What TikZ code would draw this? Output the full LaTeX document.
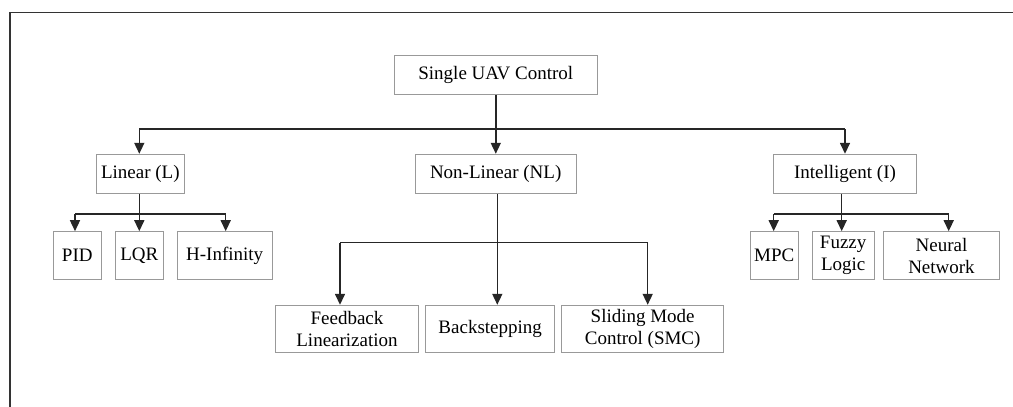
\documentclass[tikz,border=0pt]{standalone}
\usepackage{fontspec}
\setmainfont{Liberation Serif}
\usetikzlibrary{arrows.meta}
\begin{document}
\begin{tikzpicture}[x=1pt,y=-1pt,
  box/.style={draw=black!40,line width=1pt,inner sep=0pt,align=center,
    font=\rmfamily\fontsize{19}{22}\selectfont},
  conn/.style={draw=black!85,line width=1.5pt},
  arr/.style={conn,-{Triangle[length=11pt,width=10pt]}},
  frame/.style={draw=black!80,line width=1.6pt}]
\useasboundingbox (0,0) rectangle (1013,407);
\draw[frame] (10,407) -- (10,12.5) -- (1013,12.5);
% nodes
\node[box,minimum width=203pt,minimum height=39pt] (root) at (495.8,75.2) {Single UAV Control};
\node[box,minimum width=88pt,minimum height=39pt] (lin) at (140.3,173.8) {Linear (L)};
\node[box,minimum width=161.3pt,minimum height=39pt] (nl) at (495.7,173.8) {Non-Linear (NL)};
\node[box,minimum width=142.6pt,minimum height=39pt] (int) at (845,173.8) {Intelligent (I)};
\node[box,minimum width=48pt,minimum height=47.6pt] (pid) at (77.3,255.5) {PID};
\node[box,minimum width=48pt,minimum height=47.6pt] (lqr) at (139.3,255.5) {LQR};
\node[box,minimum width=95.3pt,minimum height=47.6pt] (hinf) at (224.7,255.5) {H-Infinity};
\node[box,minimum width=142.6pt,minimum height=47.4pt] (fb) at (347,329) {Feedback\\Linearization};
\node[box,minimum width=129pt,minimum height=47.4pt] (bs) at (490.2,329) {Backstepping};
\node[box,minimum width=162pt,minimum height=47.4pt] (smc) at (642.7,329) {Sliding Mode\\Control (SMC)};
\node[box,minimum width=48.3pt,minimum height=47.6pt] (mpc) at (774.2,255.5) {MPC};
\node[box,minimum width=62.3pt,minimum height=47.6pt] (fz) at (843.2,255.5) {Fuzzy\\Logic};
\node[box,minimum width=115.6pt,minimum height=47.6pt] (nn) at (941.5,255.5) {Neural\\Network};
% bus coordinates
\coordinate (t1) at (139.3,129);
\coordinate (t2) at (495.8,129);
\coordinate (t3) at (845,129);
\coordinate (l1) at (75,214);
\coordinate (l2) at (139.3,214);
\coordinate (l3) at (225.7,214);
\coordinate (n1) at (340,242.7);
\coordinate (n2) at (497.3,242.7);
\coordinate (n3) at (647.7,242.7);
\coordinate (i1) at (773.7,214);
\coordinate (i2) at (841.7,214);
\coordinate (i3) at (948.7,214);
% top level
\draw[conn] (root.south) -- (t2);
\draw[conn] (t1) -- (t3);
\draw[arr] (t1) -- (t1 |- lin.north);
\draw[arr] (t2) -- (t2 |- nl.north);
\draw[arr] (t3) -- (t3 |- int.north);
% linear
\draw[conn] (l2 |- lin.south) -- (l2);
\draw[conn] (l1) -- (l3);
\draw[arr] (l1) -- (l1 |- pid.north);
\draw[arr] (l2) -- (l2 |- lqr.north);
\draw[arr] (l3) -- (l3 |- hinf.north);
% non-linear
\draw[conn] (n2 |- nl.south) -- (n2);
\draw[conn] (n1) -- (n3);
\draw[arr] (n1) -- (n1 |- fb.north);
\draw[arr] (n2) -- (n2 |- bs.north);
\draw[arr] (n3) -- (n3 |- smc.north);
% intelligent
\draw[conn] (i2 |- int.south) -- (i2);
\draw[conn] (i1) -- (i3);
\draw[arr] (i1) -- (i1 |- mpc.north);
\draw[arr] (i2) -- (i2 |- fz.north);
\draw[arr] (i3) -- (i3 |- nn.north);
\end{tikzpicture}
\end{document}
